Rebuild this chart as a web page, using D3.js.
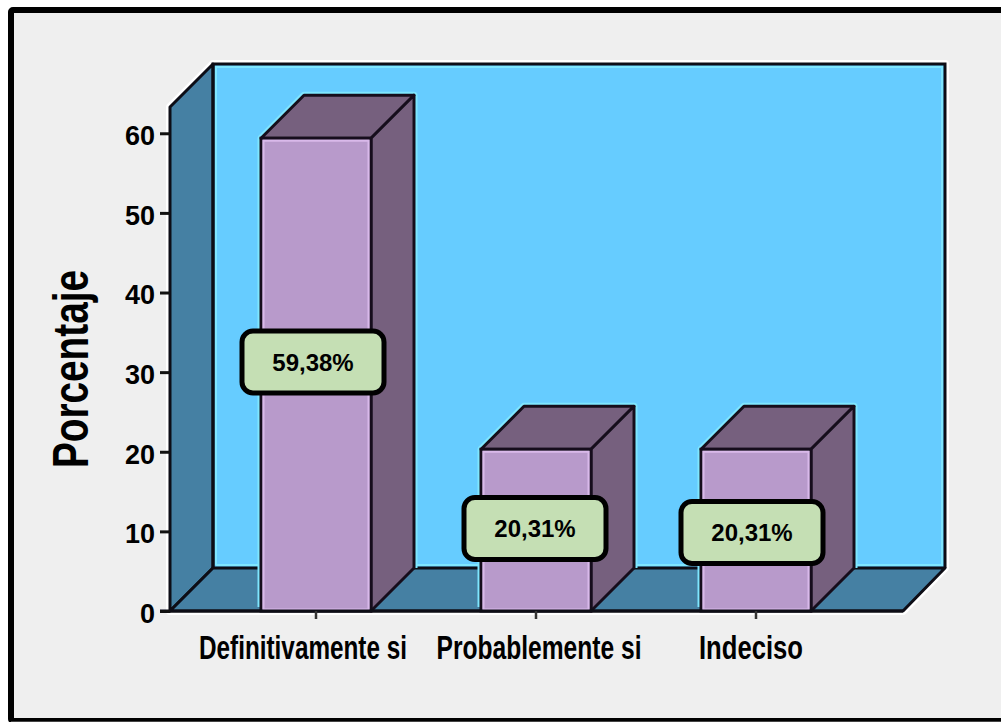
<!DOCTYPE html>
<html><head><meta charset="utf-8">
<script src="https://cdn.jsdelivr.net/npm/d3@7/dist/d3.min.js"></script>
<style>html,body{margin:0;padding:0;background:#fff}svg{display:block}</style>
</head><body><svg id="c" width="1001" height="722"></svg>
<script>
const categories = ["Definitivamente si", "Probablemente si", "Indeciso"];
const percentages = [59.38, 20.31, 20.31];
const percentLabels = ["59,38%", "20,31%", "20,31%"];
const yTicks = [0, 10, 20, 30, 40, 50, 60];
const yTitle = "Porcentaje";

const W = 1001, H = 722, depth = 43, yMax = 63.3;
const labelOffset = [[-3, 0], [-1, 0], [-4, 0]];
const labelCenterY = [362, 528.5, 532.5];
const catWidths = [208, 205, 104];
const catShift = [-13, 3, -5];

const svg = d3.select("#c");
const x = d3.scaleBand().domain(categories).range([206, 866]).paddingInner(0.5).paddingOuter(0.25);
const y = d3.scaleLinear().domain([0, yMax]).range([611, 107]);
const left = 170, right = 903, y0 = y(0), yT = y(yMax);
const pts = a => a.map(p => p.join(",")).join(" ");
const ink = "#0c0c14";

svg.append("rect").attr("width", W).attr("height", H).attr("fill", "#fff");
svg.append("rect").attr("x", 11).attr("y", 10).attr("width", W + 20).attr("height", H - 11)
  .attr("fill", "#efefef").attr("stroke", "#000").attr("stroke-width", 6).attr("rx", 2);
svg.append("line").attr("x1", 11).attr("x2", W).attr("y1", 721.5).attr("y2", 721.5).attr("stroke", "#444");

const defs = svg.append("defs");
defs.append("filter").attr("id", "soft").append("feGaussianBlur").attr("stdDeviation", 0.5);
const plot = svg.append("g").attr("filter", "url(#soft)");

const outline = [[left, y0], [left, yT], [left + depth, yT - depth], [right + depth - 1, yT - depth], [right + depth - 1, y0 - depth], [right, y0]];
plot.append("polygon").attr("points", pts(outline)).attr("fill", "#fff").attr("stroke", "#fff").attr("stroke-width", 8).attr("stroke-linejoin", "round");

plot.append("polygon").attr("points", pts([[left + depth, yT - depth], [right + depth - 1, yT - depth], [right + depth - 1, y0 - depth], [left + depth, y0 - depth]]))
  .attr("fill", "#66ccff");
plot.append("polyline").attr("points", pts([[left + depth + 3, y0 - depth - 3], [left + depth + 3, yT - depth + 3], [right + depth - 4, yT - depth + 3], [right + depth - 4, y0 - depth - 3], [left + depth + 3, y0 - depth - 3]]))
  .attr("fill", "none").attr("stroke", "#7fe6ff").attr("stroke-width", 2);

const wallStyle = s => s.attr("fill", "#4480a3").attr("stroke", ink).attr("stroke-width", 3).attr("stroke-linejoin", "round");
plot.append("polygon").attr("points", pts([[left, y0], [left, yT], [left + depth, yT - depth], [left + depth, y0 - depth]])).call(wallStyle);
plot.append("polygon").attr("points", pts([[left, y0], [left + depth, y0 - depth], [right + depth - 1, y0 - depth], [right, y0]])).call(wallStyle);
plot.append("polyline").attr("points", pts([[left + depth, y0 - depth], [left + depth, yT - depth], [right + depth - 1, yT - depth], [right + depth - 1, y0 - depth]]))
  .attr("fill", "none").attr("stroke", ink).attr("stroke-width", 3);

const bars = plot.selectAll("g.bar").data(categories).join("g").attr("class", "bar");
bars.each(function (c, i) {
  const g = d3.select(this), a = x(c), b = a + x.bandwidth(), t = y(percentages[i]);
  g.append("polyline").attr("points", pts([[a, y0 - 4], [a, t], [a + depth, t - depth], [b + depth, t - depth], [b + depth, y0 - depth]]))
    .attr("fill", "none").attr("stroke", "#7fe6ff").attr("stroke-width", 7).attr("stroke-linejoin", "round");
  const face = s => s.attr("fill", "#76607e").attr("stroke", "#16101c").attr("stroke-width", 3).attr("stroke-linejoin", "round");
  g.append("polygon").attr("points", pts([[a, t], [a + depth, t - depth], [b + depth, t - depth], [b, t]])).call(face);
  g.append("polygon").attr("points", pts([[b, t], [b + depth, t - depth], [b + depth, y0 - depth], [b, y0]])).call(face);
  g.append("rect").attr("x", a).attr("y", t).attr("width", b - a).attr("height", y0 - t)
    .attr("fill", "#b89acb").attr("stroke", "#16101c").attr("stroke-width", 3);
  g.append("rect").attr("x", a + 2.5).attr("y", t + 2.5).attr("width", b - a - 5).attr("height", y0 - t - 4)
    .attr("fill", "none").attr("stroke", "#d9b9ea").attr("stroke-width", 2);
});

plot.append("line").attr("x1", left - 10).attr("x2", right).attr("y1", y0).attr("y2", y0).attr("stroke", ink).attr("stroke-width", 3);

const yAxis = svg.append("g").attr("transform", `translate(${left},0)`)
  .call(d3.axisLeft(y).tickValues(yTicks).tickSize(10).tickPadding(5).tickFormat(d3.format("d")));
yAxis.select(".domain").remove();
yAxis.selectAll("line").attr("stroke", "#111").attr("stroke-width", 3);
yAxis.selectAll("text").attr("fill", "#000").attr("dy", "0.42em")
  .style("font", "bold 27px 'Liberation Sans', Arial, sans-serif");

const xAxis = svg.append("g").attr("transform", `translate(0,${y0})`)
  .call(d3.axisBottom(x).tickSize(8).tickFormat(""));
xAxis.select(".domain").remove();
xAxis.selectAll("line").attr("stroke", "#333").attr("stroke-width", 2.5);

svg.selectAll("text.cat").data(categories).join("text").attr("class", "cat")
  .attr("x", c => x(c) + x.bandwidth() / 2)
  .attr("dx", (c, i) => catShift[i])
  .attr("y", 659).attr("text-anchor", "middle")
  .attr("textLength", (c, i) => catWidths[i]).attr("lengthAdjust", "spacingAndGlyphs")
  .attr("fill", "#000")
  .style("font", "bold 33px 'Liberation Sans Narrow', 'Liberation Sans', sans-serif")
  .text(c => c);

svg.append("text").attr("transform", "translate(88,369) rotate(-90)").attr("text-anchor", "middle")
  .attr("textLength", 198).attr("lengthAdjust", "spacingAndGlyphs").attr("fill", "#000")
  .style("font", "bold 50px 'Liberation Sans Narrow', 'Liberation Sans', sans-serif").text(yTitle);

const lab = svg.selectAll("g.lab").data(percentLabels).join("g").attr("class", "lab")
  .attr("transform", (d, i) => `translate(${x(categories[i]) + x.bandwidth() / 2 + labelOffset[i][0]},${labelCenterY[i]})`);
lab.append("rect").attr("x", -71).attr("y", -31).attr("width", 142).attr("height", 62).attr("rx", 11)
  .attr("fill", "#c5dfb4").attr("stroke", "#000").attr("stroke-width", 5);
lab.append("text").attr("text-anchor", "middle").attr("dy", "0.36em").attr("fill", "#000")
  .style("font", "bold 24px 'Liberation Sans', Arial, sans-serif").text(d => d);
</script></body></html>
